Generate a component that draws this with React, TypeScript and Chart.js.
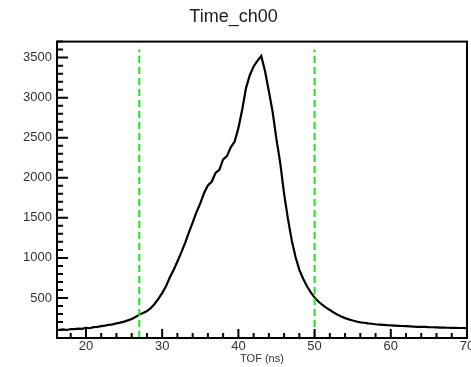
import React, { useEffect, useRef } from "react";
import { Chart, registerables } from "chart.js";

Chart.register(...registerables);

const chartTitle = "Time_ch00";
const xAxisTitle = "TOF (ns)";
const binStart = 16.5;
const binWidth = 0.5;
const counts = [
  102, 108, 100, 112, 110, 118, 115, 128, 122, 135, 140, 148, 155, 165, 170, 182,
  192, 205, 220, 238, 262, 292, 312, 335, 372, 425, 488, 560, 645, 755, 850, 955,
  1065, 1185, 1315, 1440, 1570, 1680, 1810, 1905, 1950, 2060, 2100, 2230, 2270, 2380,
  2450, 2620, 2850, 3120, 3280, 3390, 3460, 3520, 3330, 3080, 2820, 2480, 2180, 1800,
  1490, 1220, 1010, 850, 740, 645, 570, 505, 455, 415, 380, 350, 318, 292, 268, 248,
  232, 218, 206, 196, 190, 182, 178, 172, 168, 165, 160, 158, 155, 152, 150, 148,
  146, 142, 140, 140, 138, 135, 134, 132, 130, 130, 128, 127, 128, 125, 125, 124,
];
const cutLines = [27, 50];
const cutTop = 3600;
const xRange = [16.2, 70];
const yRange = [0, 3700];
const xMajorTicks = [20, 30, 40, 50, 60, 70];
const xMinorStep = 2;
const yMajorTicks = [500, 1000, 1500, 2000, 2500, 3000, 3500];
const yMinorStep = 100;

const framePlugin = {
  id: "rootFrame",
  afterDatasetsDraw(chart: any) {
    const { ctx, chartArea: a, scales } = chart;
    const xs = scales.x;
    const ys = scales.y;
    ctx.save();
    ctx.strokeStyle = "#000";
    ctx.lineWidth = 2;
    ctx.beginPath();
    for (let v = Math.ceil(xRange[0] / xMinorStep) * xMinorStep; v <= xRange[1] + 1e-9; v += xMinorStep) {
      const px = xs.getPixelForValue(v);
      const major = xMajorTicks.includes(v);
      const len = major ? 9 : 5;
      ctx.moveTo(px, a.bottom);
      ctx.lineTo(px, a.bottom - len);
    }
    for (let v = yMinorStep; v <= yRange[1] + 1e-9; v += yMinorStep) {
      const py = ys.getPixelForValue(v);
      const major = yMajorTicks.includes(v);
      const len = major ? 11 : 6;
      ctx.moveTo(a.left, py);
      ctx.lineTo(a.left + len, py);
    }
    ctx.stroke();
    ctx.strokeRect(a.left, a.top, a.right - a.left, a.bottom - a.top);
    ctx.restore();
  },
};

export default function App() {
  const ref = useRef<HTMLCanvasElement | null>(null);
  useEffect(() => {
    document.body.style.margin = "0";
    const histData = counts.map((c, i) => ({ x: binStart + i * binWidth, y: c }));
    const lineSets = cutLines.map((x) => ({
      data: [
        { x, y: yRange[0] },
        { x, y: cutTop },
      ],
      borderColor: "#19e619",
      borderWidth: 2,
      borderDash: [7, 4],
      pointRadius: 0,
      fill: false,
    }));
    const chart = new Chart(ref.current as HTMLCanvasElement, {
      type: "line",
      data: {
        datasets: [
          ...lineSets,
          {
            data: histData,
            borderColor: "#000",
            borderWidth: 2.2,
            pointRadius: 0,
            fill: false,
            tension: 0,
          },
        ],
      } as any,
      plugins: [framePlugin],
      options: {
        animation: false,
        responsive: false,
        maintainAspectRatio: false,
        layout: { padding: { left: 0, right: 4, top: 0, bottom: 0 } },
        plugins: {
          legend: { display: false },
          tooltip: { enabled: false },
          title: {
            display: true,
            text: chartTitle,
            color: "#222",
            font: { family: "Liberation Sans, Arial, sans-serif", size: 18, weight: "normal" },
            padding: { top: 6, bottom: 14 },
          },
        },
        scales: {
          x: {
            type: "linear",
            min: xRange[0],
            max: xRange[1],
            grid: { display: false, drawTicks: false },
            border: { display: false },
            afterBuildTicks: (s: any) => {
              s.ticks = xMajorTicks.map((v) => ({ value: v }));
            },
            afterFit: (s: any) => {
              s.height = 29;
              s.paddingLeft = 0;
              s.paddingRight = 0;
            },
            ticks: {
              color: "#333",
              padding: 1,
              maxRotation: 0,
              autoSkip: false,
              callback: (v: any) => String(v),
              font: { family: "Liberation Sans, Arial, sans-serif", size: 13 },
            },
            title: {
              display: true,
              text: xAxisTitle,
              color: "#333",
              font: { family: "Liberation Sans, Arial, sans-serif", size: 11 },
              padding: { top: 0, bottom: 1 },
            },
          },
          y: {
            type: "linear",
            min: yRange[0],
            max: yRange[1],
            grid: { display: false, drawTicks: false },
            border: { display: false },
            afterBuildTicks: (s: any) => {
              s.ticks = yMajorTicks.map((v) => ({ value: v }));
            },
            afterFit: (s: any) => {
              s.width = 57;
              s.paddingTop = 0;
              s.paddingBottom = 0;
            },
            ticks: {
              color: "#333",
              padding: 5,
              autoSkip: false,
              callback: (v: any) => String(v),
              font: { family: "Liberation Sans, Arial, sans-serif", size: 13 },
            },
          },
        },
      } as any,
    });
    return () => chart.destroy();
  }, []);
  return (
    <div style={{ position: "absolute", left: 0, top: 0, width: 471, height: 367, background: "#fff" }}>
      <canvas ref={ref} width={471} height={367} style={{ width: 471, height: 367, display: "block" }} />
    </div>
  );
}
